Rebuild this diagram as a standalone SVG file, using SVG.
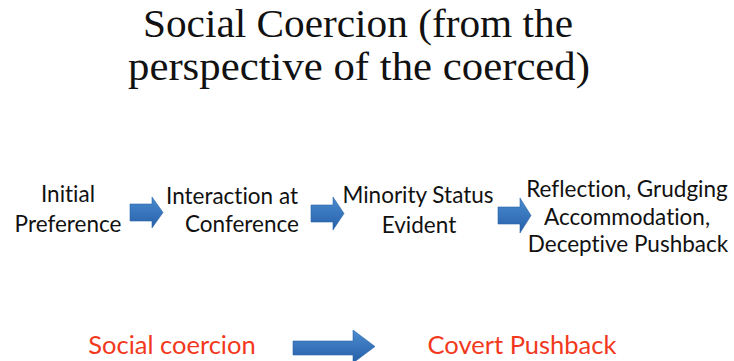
<svg xmlns="http://www.w3.org/2000/svg" width="734" height="361" viewBox="0 0 734 361">
<defs>
<linearGradient id="blue" x1="0" y1="0" x2="0" y2="1">
<stop offset="0" stop-color="#4B8BD0"/>
<stop offset="1" stop-color="#2660A8"/>
</linearGradient>
<style>
.title{font-family:"Liberation Serif","DejaVu Serif",serif;font-size:41px;fill:#111;text-anchor:middle}
.lbl{font-family:Lato,"Open Sans",sans-serif;font-size:22.5px;fill:#111;text-anchor:middle;font-variant-ligatures:none}
.red{font-family:Lato,"Open Sans",sans-serif;font-size:25.5px;fill:#F2381C;text-anchor:middle;font-variant-ligatures:none}
.arr{fill:url(#blue);stroke:#2A64A8;stroke-width:0.6}
</style>
</defs>
<rect width="734" height="361" fill="#fff"/>
<g id="title">
<text class="title" x="358" y="37" textLength="430" lengthAdjust="spacingAndGlyphs">Social Coercion (from the</text>
<text class="title" x="359" y="80" textLength="462" lengthAdjust="spacingAndGlyphs">perspective of the coerced)</text>
</g>
<g id="n1">
<text class="lbl" x="68" y="202">Initial</text>
<text class="lbl" x="68" y="232">Preference</text>
</g>
<g id="n2">
<text class="lbl" x="232" y="204">Interaction at</text>
<text class="lbl" x="242" y="232">Conference</text>
</g>
<g id="n3">
<text class="lbl" x="418" y="203">Minority Status</text>
<text class="lbl" x="419" y="233">Evident</text>
</g>
<g id="n4">
<text class="lbl" x="627" y="197">Reflection, Grudging</text>
<text class="lbl" x="627" y="225">Accommodation,</text>
<text class="lbl" x="628" y="252">Deceptive Pushback</text>
</g>
<g id="b1">
<text class="red" x="172" y="354">Social coercion</text>
</g>
<g id="b2">
<text class="red" x="522" y="354">Covert Pushback</text>
</g>
<g id="connectors">
<path class="arr" d="M130,204 H152 V197 L163,212.5 L152,228 V221 H130 Z"/>
<path class="arr" d="M311,205 H333 V197 L344,213.5 L333,230 V222 H311 Z"/>
<path class="arr" d="M498,207 H520 V198 L531,215.5 L520,233 V224 H498 Z"/>
<path class="arr" d="M293,341 H353 V330 L375,346.5 L353,363 V355 H293 Z"/>
</g>
</svg>
